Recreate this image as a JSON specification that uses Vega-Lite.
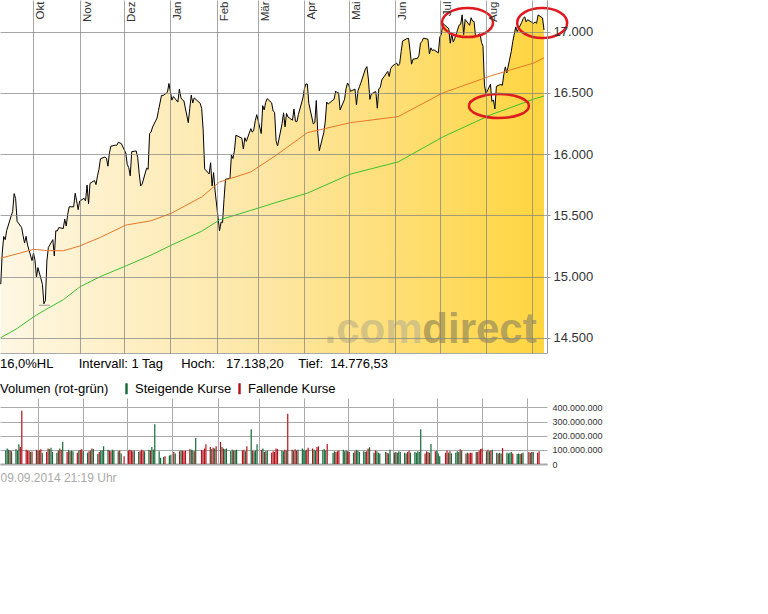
{
  "$schema": "https://vega.github.io/schema/vega-lite/v6.json",
  "padding": 0,
  "background": "white",
  "spacing": 5,
  "resolve": {"legend": {"color": "independent"}},
  "config": {
    "font": "Liberation Sans",
    "view": {"stroke": null},
    "locale": {"number": {"decimal": ",", "thousands": ".", "grouping": [3], "currency": ["", " €"]}}
  },
  "datasets": {
    "kurs": [
      {"d":"2013-09-09","c":14937,"v":95,"t":"S"},{"d":"2013-09-10","c":15191,"v":110,"t":"S"},{"d":"2013-09-11","c":15327,"v":100,"t":"S"},{"d":"2013-09-12","c":15301,"v":95,"t":"F"},{"d":"2013-09-13","c":15376,"v":90,"t":"S"},
      {"d":"2013-09-16","c":15495,"v":105,"t":"S"},{"d":"2013-09-17","c":15530,"v":95,"t":"S"},{"d":"2013-09-18","c":15677,"v":140,"t":"S"},{"d":"2013-09-19","c":15637,"v":120,"t":"F"},{"d":"2013-09-20","c":15451,"v":377,"t":"F"},
      {"d":"2013-09-23","c":15401,"v":100,"t":"F"},{"d":"2013-09-24","c":15335,"v":95,"t":"F"},{"d":"2013-09-25","c":15273,"v":92,"t":"F"},{"d":"2013-09-26","c":15328,"v":85,"t":"S"},{"d":"2013-09-27","c":15258,"v":88,"t":"F"},
      {"d":"2013-09-30","c":15130,"v":100,"t":"F"},{"d":"2013-10-01","c":15192,"v":95,"t":"S"},{"d":"2013-10-02","c":15133,"v":98,"t":"F"},{"d":"2013-10-03","c":14996,"v":105,"t":"F"},{"d":"2013-10-04","c":15073,"v":80,"t":"S"},
      {"d":"2013-10-07","c":14936,"v":85,"t":"F"},{"d":"2013-10-08","c":14777,"v":110,"t":"F"},{"d":"2013-10-09","c":14803,"v":105,"t":"S"},{"d":"2013-10-10","c":15126,"v":115,"t":"S"},{"d":"2013-10-11","c":15237,"v":85,"t":"S"},
      {"d":"2013-10-14","c":15301,"v":80,"t":"S"},{"d":"2013-10-15","c":15168,"v":95,"t":"F"},{"d":"2013-10-16","c":15374,"v":110,"t":"S"},{"d":"2013-10-17","c":15372,"v":100,"t":"F"},{"d":"2013-10-18","c":15400,"v":156,"t":"S"},
      {"d":"2013-10-21","c":15392,"v":85,"t":"F"},{"d":"2013-10-22","c":15468,"v":100,"t":"S"},{"d":"2013-10-23","c":15413,"v":90,"t":"F"},{"d":"2013-10-24","c":15509,"v":95,"t":"S"},{"d":"2013-10-25","c":15570,"v":90,"t":"S"},
      {"d":"2013-10-28","c":15569,"v":80,"t":"F"},{"d":"2013-10-29","c":15680,"v":95,"t":"S"},{"d":"2013-10-30","c":15618,"v":100,"t":"F"},{"d":"2013-10-31","c":15546,"v":105,"t":"F"},{"d":"2013-11-01","c":15616,"v":90,"t":"S"},
      {"d":"2013-11-04","c":15639,"v":80,"t":"S"},{"d":"2013-11-05","c":15618,"v":90,"t":"F"},{"d":"2013-11-06","c":15747,"v":95,"t":"S"},{"d":"2013-11-07","c":15594,"v":110,"t":"F"},{"d":"2013-11-08","c":15762,"v":105,"t":"S"},
      {"d":"2013-11-11","c":15784,"v":70,"t":"S"},{"d":"2013-11-12","c":15751,"v":85,"t":"F"},{"d":"2013-11-13","c":15822,"v":95,"t":"S"},{"d":"2013-11-14","c":15876,"v":95,"t":"S"},{"d":"2013-11-15","c":15962,"v":125,"t":"S"},
      {"d":"2013-11-18","c":15976,"v":100,"t":"S"},{"d":"2013-11-19","c":15967,"v":95,"t":"F"},{"d":"2013-11-20","c":15901,"v":90,"t":"F"},{"d":"2013-11-21","c":16010,"v":100,"t":"S"},{"d":"2013-11-22","c":16065,"v":95,"t":"S"},
      {"d":"2013-11-25","c":16073,"v":90,"t":"S"},{"d":"2013-11-26","c":16072,"v":95,"t":"F"},{"d":"2013-11-27","c":16097,"v":75,"t":"S"},{"d":"2013-11-29","c":16086,"v":55,"t":"F"},
      {"d":"2013-12-02","c":16009,"v":95,"t":"F"},{"d":"2013-12-03","c":15915,"v":100,"t":"F"},{"d":"2013-12-04","c":15889,"v":95,"t":"F"},{"d":"2013-12-05","c":15822,"v":90,"t":"F"},{"d":"2013-12-06","c":16020,"v":95,"t":"S"},
      {"d":"2013-12-09","c":16026,"v":85,"t":"S"},{"d":"2013-12-10","c":15973,"v":90,"t":"F"},{"d":"2013-12-11","c":15844,"v":100,"t":"F"},{"d":"2013-12-12","c":15740,"v":95,"t":"F"},{"d":"2013-12-13","c":15755,"v":90,"t":"S"},
      {"d":"2013-12-16","c":15885,"v":100,"t":"S"},{"d":"2013-12-17","c":15876,"v":95,"t":"F"},{"d":"2013-12-18","c":16168,"v":120,"t":"S"},{"d":"2013-12-19","c":16180,"v":100,"t":"S"},{"d":"2013-12-20","c":16221,"v":282,"t":"S"},
      {"d":"2013-12-23","c":16294,"v":90,"t":"S"},{"d":"2013-12-24","c":16358,"v":45,"t":"S"},{"d":"2013-12-26","c":16479,"v":50,"t":"S"},{"d":"2013-12-27","c":16478,"v":55,"t":"F"},
      {"d":"2013-12-30","c":16505,"v":60,"t":"S"},{"d":"2013-12-31","c":16577,"v":65,"t":"S"},{"d":"2014-01-02","c":16441,"v":85,"t":"F"},{"d":"2014-01-03","c":16470,"v":75,"t":"S"},
      {"d":"2014-01-06","c":16425,"v":90,"t":"F"},{"d":"2014-01-07","c":16531,"v":95,"t":"S"},{"d":"2014-01-08","c":16463,"v":95,"t":"F"},{"d":"2014-01-09","c":16444,"v":90,"t":"F"},{"d":"2014-01-10","c":16437,"v":95,"t":"F"},
      {"d":"2014-01-13","c":16257,"v":105,"t":"F"},{"d":"2014-01-14","c":16374,"v":100,"t":"S"},{"d":"2014-01-15","c":16482,"v":95,"t":"S"},{"d":"2014-01-16","c":16418,"v":90,"t":"F"},{"d":"2014-01-17","c":16459,"v":184,"t":"S"},
      {"d":"2014-01-21","c":16415,"v":100,"t":"F"},{"d":"2014-01-22","c":16373,"v":95,"t":"F"},{"d":"2014-01-23","c":16198,"v":110,"t":"F"},{"d":"2014-01-24","c":15879,"v":139,"t":"F"},
      {"d":"2014-01-27","c":15838,"v":120,"t":"F"},{"d":"2014-01-28","c":15929,"v":105,"t":"S"},{"d":"2014-01-29","c":15739,"v":115,"t":"F"},{"d":"2014-01-30","c":15849,"v":110,"t":"S"},{"d":"2014-01-31","c":15699,"v":125,"t":"F"},
      {"d":"2014-02-03","c":15373,"v":156,"t":"F"},{"d":"2014-02-04","c":15445,"v":120,"t":"S"},{"d":"2014-02-05","c":15440,"v":110,"t":"F"},{"d":"2014-02-06","c":15629,"v":105,"t":"S"},{"d":"2014-02-07","c":15795,"v":110,"t":"S"},
      {"d":"2014-02-10","c":15801,"v":90,"t":"S"},{"d":"2014-02-11","c":15994,"v":100,"t":"S"},{"d":"2014-02-12","c":15964,"v":95,"t":"F"},{"d":"2014-02-13","c":16027,"v":95,"t":"S"},{"d":"2014-02-14","c":16154,"v":100,"t":"S"},
      {"d":"2014-02-18","c":16130,"v":95,"t":"F"},{"d":"2014-02-19","c":16041,"v":100,"t":"F"},{"d":"2014-02-20","c":16134,"v":90,"t":"S"},{"d":"2014-02-21","c":16104,"v":125,"t":"F"},
      {"d":"2014-02-24","c":16208,"v":246,"t":"S"},{"d":"2014-02-25","c":16179,"v":95,"t":"F"},{"d":"2014-02-26","c":16198,"v":90,"t":"S"},{"d":"2014-02-27","c":16273,"v":95,"t":"S"},{"d":"2014-02-28","c":16322,"v":139,"t":"S"},
      {"d":"2014-03-03","c":16168,"v":100,"t":"F"},{"d":"2014-03-04","c":16396,"v":110,"t":"S"},{"d":"2014-03-05","c":16361,"v":85,"t":"F"},{"d":"2014-03-06","c":16422,"v":90,"t":"S"},{"d":"2014-03-07","c":16453,"v":95,"t":"S"},
      {"d":"2014-03-10","c":16419,"v":80,"t":"F"},{"d":"2014-03-11","c":16352,"v":90,"t":"F"},{"d":"2014-03-12","c":16341,"v":85,"t":"F"},{"d":"2014-03-13","c":16109,"v":110,"t":"F"},{"d":"2014-03-14","c":16066,"v":105,"t":"F"},
      {"d":"2014-03-17","c":16248,"v":95,"t":"S"},{"d":"2014-03-18","c":16337,"v":90,"t":"S"},{"d":"2014-03-19","c":16223,"v":100,"t":"F"},{"d":"2014-03-20","c":16332,"v":95,"t":"S"},{"d":"2014-03-21","c":16303,"v":356,"t":"F"},
      {"d":"2014-03-24","c":16277,"v":100,"t":"F"},{"d":"2014-03-25","c":16368,"v":95,"t":"S"},{"d":"2014-03-26","c":16268,"v":105,"t":"F"},{"d":"2014-03-27","c":16265,"v":95,"t":"F"},{"d":"2014-03-28","c":16324,"v":100,"t":"S"},
      {"d":"2014-03-31","c":16458,"v":110,"t":"S"},{"d":"2014-04-01","c":16533,"v":100,"t":"S"},{"d":"2014-04-02","c":16573,"v":95,"t":"S"},{"d":"2014-04-03","c":16572,"v":100,"t":"F"},{"d":"2014-04-04","c":16413,"v":115,"t":"F"},
      {"d":"2014-04-07","c":16246,"v":110,"t":"F"},{"d":"2014-04-08","c":16257,"v":100,"t":"S"},{"d":"2014-04-09","c":16438,"v":95,"t":"S"},{"d":"2014-04-10","c":16171,"v":120,"t":"F"},{"d":"2014-04-11","c":16027,"v":125,"t":"F"},
      {"d":"2014-04-14","c":16174,"v":100,"t":"S"},{"d":"2014-04-15","c":16263,"v":105,"t":"S"},{"d":"2014-04-16","c":16425,"v":95,"t":"S"},{"d":"2014-04-17","c":16409,"v":141,"t":"F"},
      {"d":"2014-04-21","c":16449,"v":80,"t":"S"},{"d":"2014-04-22","c":16515,"v":90,"t":"S"},{"d":"2014-04-23","c":16502,"v":85,"t":"F"},{"d":"2014-04-24","c":16501,"v":90,"t":"F"},{"d":"2014-04-25","c":16361,"v":95,"t":"F"},
      {"d":"2014-04-28","c":16448,"v":100,"t":"S"},{"d":"2014-04-29","c":16535,"v":90,"t":"S"},{"d":"2014-04-30","c":16581,"v":95,"t":"S"},{"d":"2014-05-01","c":16559,"v":90,"t":"F"},{"d":"2014-05-02","c":16513,"v":85,"t":"F"},
      {"d":"2014-05-05","c":16531,"v":80,"t":"S"},{"d":"2014-05-06","c":16402,"v":90,"t":"F"},{"d":"2014-05-07","c":16518,"v":100,"t":"S"},{"d":"2014-05-08","c":16551,"v":95,"t":"S"},{"d":"2014-05-09","c":16584,"v":85,"t":"S"},
      {"d":"2014-05-12","c":16696,"v":90,"t":"S"},{"d":"2014-05-13","c":16715,"v":85,"t":"S"},{"d":"2014-05-14","c":16614,"v":90,"t":"F"},{"d":"2014-05-15","c":16447,"v":110,"t":"F"},{"d":"2014-05-16","c":16492,"v":118,"t":"S"},
      {"d":"2014-05-19","c":16511,"v":80,"t":"S"},{"d":"2014-05-20","c":16375,"v":95,"t":"F"},{"d":"2014-05-21","c":16534,"v":90,"t":"S"},{"d":"2014-05-22","c":16543,"v":80,"t":"S"},{"d":"2014-05-23","c":16606,"v":75,"t":"S"},
      {"d":"2014-05-27","c":16676,"v":85,"t":"S"},{"d":"2014-05-28","c":16634,"v":80,"t":"F"},{"d":"2014-05-29","c":16699,"v":75,"t":"S"},{"d":"2014-05-30","c":16717,"v":100,"t":"S"},
      {"d":"2014-06-02","c":16744,"v":80,"t":"S"},{"d":"2014-06-03","c":16722,"v":85,"t":"F"},{"d":"2014-06-04","c":16738,"v":80,"t":"S"},{"d":"2014-06-05","c":16837,"v":90,"t":"S"},{"d":"2014-06-06","c":16924,"v":85,"t":"S"},
      {"d":"2014-06-09","c":16944,"v":80,"t":"S"},{"d":"2014-06-10","c":16946,"v":75,"t":"S"},{"d":"2014-06-11","c":16844,"v":85,"t":"F"},{"d":"2014-06-12","c":16735,"v":95,"t":"F"},{"d":"2014-06-13","c":16776,"v":80,"t":"S"},
      {"d":"2014-06-16","c":16782,"v":85,"t":"S"},{"d":"2014-06-17","c":16808,"v":80,"t":"S"},{"d":"2014-06-18","c":16906,"v":90,"t":"S"},{"d":"2014-06-19","c":16921,"v":85,"t":"S"},{"d":"2014-06-20","c":16948,"v":246,"t":"S"},
      {"d":"2014-06-23","c":16938,"v":75,"t":"F"},{"d":"2014-06-24","c":16819,"v":90,"t":"F"},{"d":"2014-06-25","c":16868,"v":85,"t":"S"},{"d":"2014-06-26","c":16846,"v":80,"t":"F"},{"d":"2014-06-27","c":16852,"v":141,"t":"S"},
      {"d":"2014-06-30","c":16827,"v":90,"t":"F"},{"d":"2014-07-01","c":16957,"v":95,"t":"S"},{"d":"2014-07-02","c":16977,"v":75,"t":"S"},{"d":"2014-07-03","c":17068,"v":55,"t":"S"},
      {"d":"2014-07-07","c":17025,"v":80,"t":"F"},{"d":"2014-07-08","c":16906,"v":95,"t":"F"},{"d":"2014-07-09","c":16985,"v":80,"t":"S"},{"d":"2014-07-10","c":16915,"v":90,"t":"F"},{"d":"2014-07-11","c":16944,"v":75,"t":"S"},
      {"d":"2014-07-14","c":17055,"v":80,"t":"S"},{"d":"2014-07-15","c":17061,"v":90,"t":"S"},{"d":"2014-07-16","c":17138,"v":85,"t":"S"},{"d":"2014-07-17","c":16977,"v":105,"t":"F"},{"d":"2014-07-18","c":17100,"v":95,"t":"S"},
      {"d":"2014-07-21","c":17052,"v":75,"t":"F"},{"d":"2014-07-22","c":17114,"v":80,"t":"S"},{"d":"2014-07-23","c":17087,"v":75,"t":"F"},{"d":"2014-07-24","c":17083,"v":80,"t":"F"},{"d":"2014-07-25","c":16961,"v":80,"t":"F"},
      {"d":"2014-07-28","c":16983,"v":85,"t":"S"},{"d":"2014-07-29","c":16913,"v":85,"t":"F"},{"d":"2014-07-30","c":16881,"v":95,"t":"F"},{"d":"2014-07-31","c":16563,"v":106,"t":"F"},{"d":"2014-08-01","c":16493,"v":110,"t":"F"},
      {"d":"2014-08-04","c":16570,"v":90,"t":"S"},{"d":"2014-08-05","c":16430,"v":100,"t":"F"},{"d":"2014-08-06","c":16443,"v":90,"t":"S"},{"d":"2014-08-07","c":16369,"v":95,"t":"F"},{"d":"2014-08-08","c":16554,"v":100,"t":"S"},
      {"d":"2014-08-11","c":16570,"v":80,"t":"S"},{"d":"2014-08-12","c":16561,"v":75,"t":"F"},{"d":"2014-08-13","c":16652,"v":80,"t":"S"},{"d":"2014-08-14","c":16713,"v":75,"t":"S"},{"d":"2014-08-15","c":16663,"v":113,"t":"F"},
      {"d":"2014-08-18","c":16839,"v":80,"t":"S"},{"d":"2014-08-19","c":16920,"v":75,"t":"S"},{"d":"2014-08-20","c":16980,"v":80,"t":"S"},{"d":"2014-08-21","c":17039,"v":85,"t":"S"},{"d":"2014-08-22","c":17001,"v":75,"t":"F"},
      {"d":"2014-08-25","c":17077,"v":70,"t":"S"},{"d":"2014-08-26","c":17106,"v":75,"t":"S"},{"d":"2014-08-27","c":17122,"v":70,"t":"S"},{"d":"2014-08-28","c":17080,"v":75,"t":"F"},{"d":"2014-08-29","c":17098,"v":80,"t":"S"},
      {"d":"2014-09-02","c":17068,"v":85,"t":"F"},{"d":"2014-09-03","c":17079,"v":80,"t":"S"},{"d":"2014-09-04","c":17069,"v":85,"t":"F"},{"d":"2014-09-05","c":17137,"v":85,"t":"S"},
      {"d":"2014-09-08","c":17112,"v":80,"t":"F"},{"d":"2014-09-09","c":17014,"v":90,"t":"F"}
    ],
    "ma": [
      {"d":"2013-09-09","m1":15150,"m2":14500},{"d":"2013-09-20","m1":15185,"m2":14575},{"d":"2013-10-01","m1":15222,"m2":14670},
      {"d":"2013-10-10","m1":15212,"m2":14735},{"d":"2013-10-21","m1":15210,"m2":14810},{"d":"2013-11-01","m1":15249,"m2":14914},
      {"d":"2013-11-15","m1":15320,"m2":15000},{"d":"2013-12-02","m1":15420,"m2":15086},{"d":"2013-12-19","m1":15455,"m2":15175},
      {"d":"2014-01-02","m1":15519,"m2":15258},{"d":"2014-01-22","m1":15650,"m2":15370},{"d":"2014-02-03","m1":15772,"m2":15462},
      {"d":"2014-02-24","m1":15854,"m2":15540},{"d":"2014-03-13","m1":15990,"m2":15605},{"d":"2014-04-03","m1":16175,"m2":15681},
      {"d":"2014-05-02","m1":16257,"m2":15837},{"d":"2014-06-03","m1":16306,"m2":15936},{"d":"2014-07-03","m1":16500,"m2":16140},
      {"d":"2014-08-04","m1":16638,"m2":16320},{"d":"2014-09-02","m1":16744,"m2":16449},{"d":"2014-09-09","m1":16786,"m2":16475}
    ],
    "logo": [
      {"d":"2014-04-14T12:00:00Z","v":14457,"t":".com"},
      {"d":"2014-06-19T06:00:00Z","v":14457,"t":"direct"}
    ],
    "kreise": [
      {"d":"2014-07-19T14:00:00Z","v":17075,"k":"a"},
      {"d":"2014-09-07T18:00:00Z","v":17071,"k":"b"},
      {"d":"2014-08-09T17:00:00Z","v":16393,"k":"c"}
    ],
    "tief": [
      {"d1":"2013-10-04T18:00:00Z","d2":"2013-10-12T00:00:00Z","v":14765}
    ]
  },
  "vconcat": [
    {
      "width": 547,
      "height": 353,
      "resolve": {"axis": {"x": "independent"}},
      "layer": [
        {
          "data": {"name": "kurs"},
          "mark": {"type": "area", "clip": true, "color": {"gradient": "linear", "x1": 0, "y1": 0, "x2": 1, "y2": 0, "stops": [{"offset": 0, "color": "#fef7e3"}, {"offset": 0.5, "color": "#fde6a2"}, {"offset": 1, "color": "#ffd53f"}]}},
          "encoding": {
            "x": {"field": "d", "type": "temporal",
              "scale": {"type": "utc", "domain": [{"year": 2013, "month": 9, "date": 8, "hours": 12, "utc": true}, {"year": 2014, "month": 9, "date": 11, "utc": true}]},
              "axis": {"orient": "top", "title": null, "zindex": 1,
                "values": [{"year":2013,"month":10,"date":1,"utc":true},{"year":2013,"month":11,"date":1,"utc":true},{"year":2013,"month":12,"date":1,"utc":true},{"year":2014,"month":1,"date":1,"utc":true},{"year":2014,"month":2,"date":1,"utc":true},{"year":2014,"month":3,"date":1,"utc":true},{"year":2014,"month":4,"date":1,"utc":true},{"year":2014,"month":5,"date":1,"utc":true},{"year":2014,"month":6,"date":1,"utc":true},{"year":2014,"month":7,"date":1,"utc":true},{"year":2014,"month":8,"date":1,"utc":true},{"year":2014,"month":9,"date":1,"utc":true}],
                "labelExpr": "['Jan','Feb','Mär','Apr','Mai','Jun','Jul','Aug','','Okt','Nov','Dez'][utcmonth(datum.value)]",
                "grid": true, "gridColor": "#808080", "gridOpacity": 0.7, "domain": false, "ticks": false, "tickSize": 0,
                "labelAngle": 270, "labelAlign": "right", "labelBaseline": "top", "labelPadding": -1, "labelOffset": 1.5,
                "labelFontSize": 11.5, "labelColor": "#333333", "labelOverlap": false, "labelFlush": false, "labelBound": false}},
            "y": {"field": "c", "type": "quantitative",
              "scale": {"domain": [14375, 17259], "zero": false, "nice": false},
              "axis": {"orient": "right", "title": null, "zindex": 1, "values": [14500, 15000, 15500, 16000, 16500, 17000], "format": ",d",
                "grid": true, "gridColor": "#808080", "gridOpacity": 0.7, "domain": true, "domainColor": "#999999", "ticks": true, "tickColor": "#999999", "tickSize": 3,
                "labelPadding": 3, "labelFontSize": 13, "labelColor": "#333333"}}
          }
        },
        {
          "data": {"name": "kurs"},
          "mark": {"type": "line", "color": "#000000", "strokeWidth": 1, "clip": true},
          "encoding": {
            "x": {"field": "d", "type": "temporal", "axis": {"orient": "bottom", "title": null, "labels": false, "ticks": false, "grid": false, "domain": true, "domainColor": "#aaaaaa"}},
            "y": {"field": "c", "type": "quantitative", "axis": {"title": null}}
          }
        },
        {
          "data": {"name": "ma"},
          "mark": {"type": "line", "color": "#e8772a", "strokeWidth": 1, "clip": true},
          "encoding": {
            "x": {"field": "d", "type": "temporal", "axis": null},
            "y": {"field": "m1", "type": "quantitative", "axis": {"title": null}}
          }
        },
        {
          "data": {"name": "ma"},
          "mark": {"type": "line", "color": "#3cc030", "strokeWidth": 1, "clip": true},
          "encoding": {
            "x": {"field": "d", "type": "temporal", "axis": null},
            "y": {"field": "m2", "type": "quantitative", "axis": {"title": null}}
          }
        },
        {
          "data": {"name": "tief"},
          "mark": {"type": "rule", "color": "#999999", "strokeWidth": 1},
          "encoding": {
            "x": {"field": "d1", "type": "temporal", "axis": null},
            "x2": {"field": "d2"},
            "y": {"field": "v", "type": "quantitative", "axis": {"title": null}}
          }
        },
        {
          "data": {"name": "logo"},
          "mark": {"type": "text", "align": "left", "baseline": "alphabetic", "fontSize": 42, "fontWeight": "bold", "font": "Liberation Sans"},
          "encoding": {
            "x": {"field": "d", "type": "temporal", "axis": null},
            "y": {"field": "v", "type": "quantitative", "axis": {"title": null}},
            "text": {"field": "t"},
            "color": {"condition": {"test": "datum.t == '.com'", "value": "#d5c383"}, "value": "#b7a458"}
          }
        },
        {
          "data": {"name": "kreise"},
          "transform": [{"filter": "datum.k == 'a'"}],
          "mark": {"type": "point", "shape": "M-1,0A1,0.57,0,1,1,1,0A1,0.57,0,1,1,-1,0Z", "size": 2601, "filled": false, "color": "#e0191e", "strokeWidth": 2.5, "opacity": 1},
          "encoding": {
            "x": {"field": "d", "type": "temporal", "axis": null},
            "y": {"field": "v", "type": "quantitative", "axis": {"title": null}}
          }
        },
        {
          "data": {"name": "kreise"},
          "transform": [{"filter": "datum.k == 'b'"}],
          "mark": {"type": "point", "shape": "M-1,0A1,0.6,0,1,1,1,0A1,0.6,0,1,1,-1,0Z", "size": 2500, "filled": false, "color": "#e0191e", "strokeWidth": 2.5, "opacity": 1},
          "encoding": {
            "x": {"field": "d", "type": "temporal", "axis": null},
            "y": {"field": "v", "type": "quantitative", "axis": {"title": null}}
          }
        },
        {
          "data": {"name": "kreise"},
          "transform": [{"filter": "datum.k == 'c'"}],
          "mark": {"type": "point", "shape": "M-1,0A1,0.4,0,1,1,1,0A1,0.4,0,1,1,-1,0Z", "size": 3600, "filled": false, "color": "#e0191e", "strokeWidth": 2.5, "opacity": 1},
          "encoding": {
            "x": {"field": "d", "type": "temporal", "axis": null},
            "y": {"field": "v", "type": "quantitative", "axis": {"title": null}}
          }
        }
      ]
    },
    {
      "width": 547,
      "height": 66,
      "title": {"text": "16,0%HL\u00a0\u00a0\u00a0\u00a0\u00a0\u00a0\u00a0Intervall: 1 Tag\u00a0\u00a0\u00a0\u00a0\u00a0Hoch:\u00a0\u00a0\u00a017.138,20\u00a0\u00a0\u00a0\u00a0Tief:\u00a0\u00a014.776,53", "anchor": "start", "frame": "group", "fontSize": 13, "fontWeight": "normal", "color": "#000000", "offset": 11, "font": "Liberation Sans"},
      "data": {"name": "kurs"},
      "mark": {"type": "bar", "width": 1.2},
      "encoding": {
        "x": {"field": "d", "type": "temporal",
          "scale": {"type": "utc", "domain": [{"year": 2013, "month": 9, "date": 8, "hours": 12, "utc": true}, {"year": 2014, "month": 9, "date": 11, "utc": true}]},
          "axis": {"orient": "bottom",
            "values": [{"year":2013,"month":10,"date":1,"utc":true},{"year":2013,"month":11,"date":1,"utc":true},{"year":2013,"month":12,"date":1,"utc":true},{"year":2014,"month":1,"date":1,"utc":true},{"year":2014,"month":2,"date":1,"utc":true},{"year":2014,"month":3,"date":1,"utc":true},{"year":2014,"month":4,"date":1,"utc":true},{"year":2014,"month":5,"date":1,"utc":true},{"year":2014,"month":6,"date":1,"utc":true},{"year":2014,"month":7,"date":1,"utc":true},{"year":2014,"month":8,"date":1,"utc":true},{"year":2014,"month":9,"date":1,"utc":true}],
            "grid": true, "gridColor": "#aaaaaa", "labels": false, "ticks": false, "domain": true, "domainColor": "#aaaaaa", "domainWidth": 2,
            "title": "09.09.2014 21:19 Uhr", "titleAnchor": "start", "titleAlign": "left", "titleColor": "#aaaaaa", "titleFontSize": 12, "titleFontWeight": "normal", "titlePadding": 8.5}},
        "y": {"field": "v", "type": "quantitative",
          "scale": {"domain": [0, 467], "nice": false},
          "axis": {"orient": "right", "title": null, "values": [0, 100, 200, 300, 400], "labelExpr": "format(datum.value * 1000000, ',d')",
            "grid": true, "gridColor": "#aaaaaa", "domain": false, "ticks": false, "labelPadding": 5, "labelFontSize": 9, "labelColor": "#333333"}},
        "color": {"field": "t", "type": "nominal",
          "scale": {"domain": ["S", "F"], "range": ["#17683a", "#b3121b"]},
          "legend": {"orient": "top", "direction": "horizontal", "title": "Volumen (rot-grün)", "titleOrient": "left",
            "titleFontSize": 13, "titleFontWeight": "normal", "titleColor": "#000000", "titlePadding": 11,
            "labelFontSize": 13, "labelColor": "#000000", "labelOffset": 2, "columnPadding": 1,
            "symbolType": "M-0.22,-1H0.22V1H-0.22Z", "symbolSize": 121, "symbolStrokeWidth": 0, "symbolOpacity": 1,
            "offset": 2.5, "padding": 0,
            "labelExpr": "datum.value == 'S' ? 'Steigende Kurse' : 'Fallende Kurse'"}}
      }
    }
  ]
}
